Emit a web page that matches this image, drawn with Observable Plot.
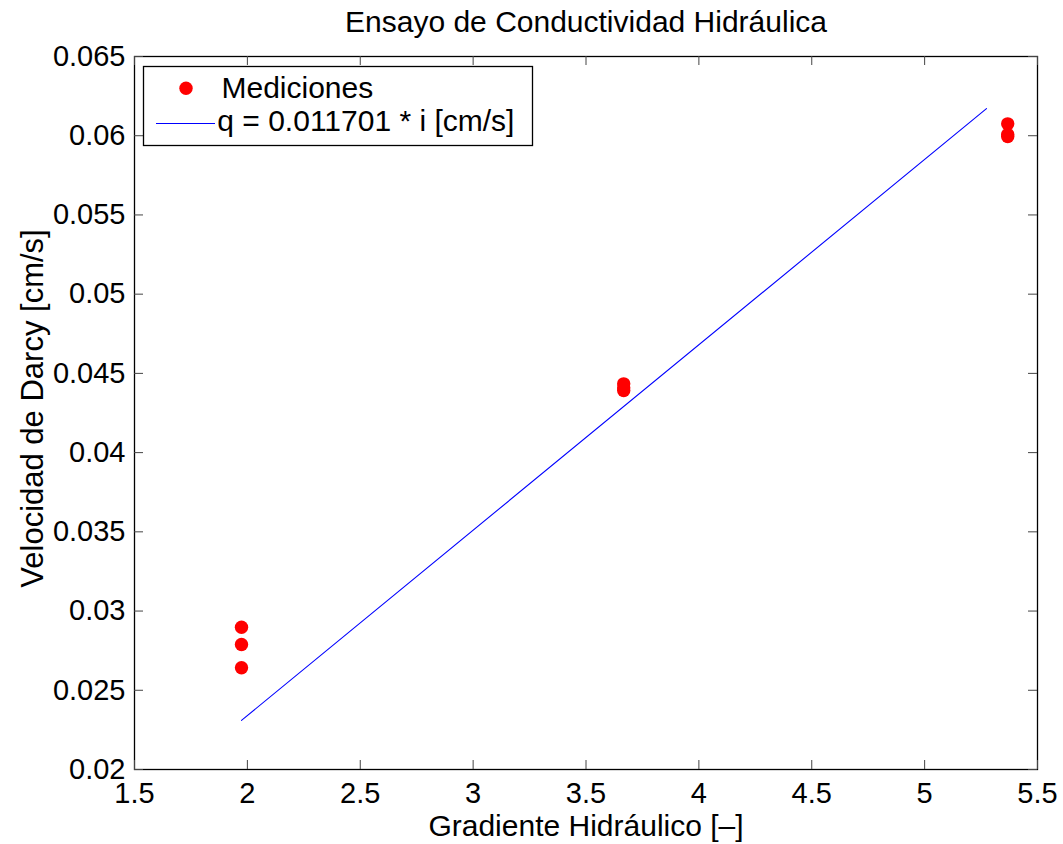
<!DOCTYPE html>
<html>
<head>
<meta charset="utf-8">
<script src="https://cdn.jsdelivr.net/npm/d3@7"></script>
<script src="https://cdn.jsdelivr.net/npm/@observablehq/plot@0.6"></script>
<style>
  html, body { margin: 0; padding: 0; background: #fff; }
  #chart { width: 1063px; height: 844px; }
</style>
</head>
<body>
<div id="chart"></div>
<script>
// ---- data ----
const titleText = "Ensayo de Conductividad Hidráulica";
const xLabel = "Gradiente Hidráulico [–]";
const yLabel = "Velocidad de Darcy [cm/s]";
const legendLabels = ["Mediciones", "q = 0.011701 * i [cm/s]"];

// measured points
const gradiente = [1.974, 1.974, 1.974, 3.667, 3.667, 3.667, 5.368, 5.368, 5.368];
const velocidad = [0.02898, 0.02789, 0.02642, 0.04434, 0.04392, 0.04410, 0.06075, 0.05995, 0.06008];

// fitted line endpoints
const fitGradiente = [1.974, 5.274];
const fitVelocidad = [0.023098, 0.061711];

// axes
const xDomain = [1.5, 5.5];
const yDomain = [0.02, 0.065];
const xTicks = [1.5, 2, 2.5, 3, 3.5, 4, 4.5, 5, 5.5];
const yTicks = [0.02, 0.025, 0.03, 0.035, 0.04, 0.045, 0.05, 0.055, 0.06, 0.065];

// ---- build ----
const W = 1063, H = 844;
const mL = 134, mR = 26, mT = 56, mB = 75;
const innerW = W - mL - mR, innerH = H - mT - mB;
const tickLen = 9;
const font = "'Liberation Sans', Arial, Helvetica, sans-serif";

const points = gradiente.map((g, i) => ({g, v: velocidad[i]}));
const fit = fitGradiente.map((g, i) => ({g, v: fitVelocidad[i]}));

const plot = Plot.plot({
  width: W,
  height: H,
  marginLeft: mL,
  marginRight: mR,
  marginTop: mT,
  marginBottom: mB,
  style: {fontFamily: font, fontSize: "29px", color: "#000", background: "#fff"},
  x: {domain: xDomain, nice: false, axis: null},
  y: {domain: yDomain, nice: false, axis: null},
  marks: [
    Plot.frame({stroke: "#000", strokeWidth: 1.3}),
    // inward ticks on all four sides
    Plot.tickX(xTicks, {x: d => d, insetTop: innerH - tickLen, stroke: "#444", strokeWidth: 1}),
    Plot.tickX(xTicks, {x: d => d, insetBottom: innerH - tickLen, stroke: "#444", strokeWidth: 1}),
    Plot.tickY(yTicks, {y: d => d, insetRight: innerW - tickLen, stroke: "#444", strokeWidth: 1}),
    Plot.tickY(yTicks, {y: d => d, insetLeft: innerW - tickLen, stroke: "#444", strokeWidth: 1}),
    // tick labels
    Plot.axisX({ticks: xTicks, tickSize: 0, tickPadding: 13, tickFormat: d => String(d), fontSize: 29, label: null, stroke: null}),
    Plot.axisY({ticks: yTicks, tickSize: 0, tickPadding: 9, tickFormat: d => String(d), fontSize: 29, label: null, stroke: null}),
    // fitted line
    Plot.line(fit, {x: "g", y: "v", stroke: "#0000ff", strokeWidth: 1.1}),
    // measurements
    Plot.dot(points, {x: "g", y: "v", r: 6.7, fill: "#ff0000", stroke: null}),
    // title and axis labels
    Plot.text([titleText], {text: d => d, frameAnchor: "top", dy: -25, lineAnchor: "bottom", textAnchor: "middle", fontSize: 30}),
    Plot.text([xLabel], {text: d => d, frameAnchor: "bottom", dy: 66, lineAnchor: "bottom", textAnchor: "middle", fontSize: 30}),
    Plot.text([yLabel], {text: d => d, frameAnchor: "left", dx: -92, dy: -4.5, rotate: -90, lineAnchor: "bottom", textAnchor: "middle", fontSize: 31})
  ]
});

// legend box (MATLAB style), drawn into the same SVG
const svg = d3.select(plot);
const lg = svg.append("g").attr("font-family", font).attr("font-size", 30).attr("text-anchor", "start");
lg.append("rect").attr("x", 143.5).attr("y", 66.5).attr("width", 389).attr("height", 79)
  .attr("fill", "#fff").attr("stroke", "#000").attr("stroke-width", 1.3);
lg.append("circle").attr("cx", 186).attr("cy", 88.3).attr("r", 6.7).attr("fill", "#ff0000");
lg.append("line").attr("x1", 156).attr("x2", 215).attr("y1", 123.5).attr("y2", 123.5)
  .attr("stroke", "#0000ff").attr("stroke-width", 1.1);
lg.append("text").attr("x", 221.5).attr("y", 98.3).attr("fill", "#000").attr("text-anchor", "start").text(legendLabels[0]);
lg.append("text").attr("x", 217.3).attr("y", 131).attr("fill", "#000").attr("text-anchor", "start").text(legendLabels[1]);

document.getElementById("chart").appendChild(plot);
</script>
</body>
</html>
